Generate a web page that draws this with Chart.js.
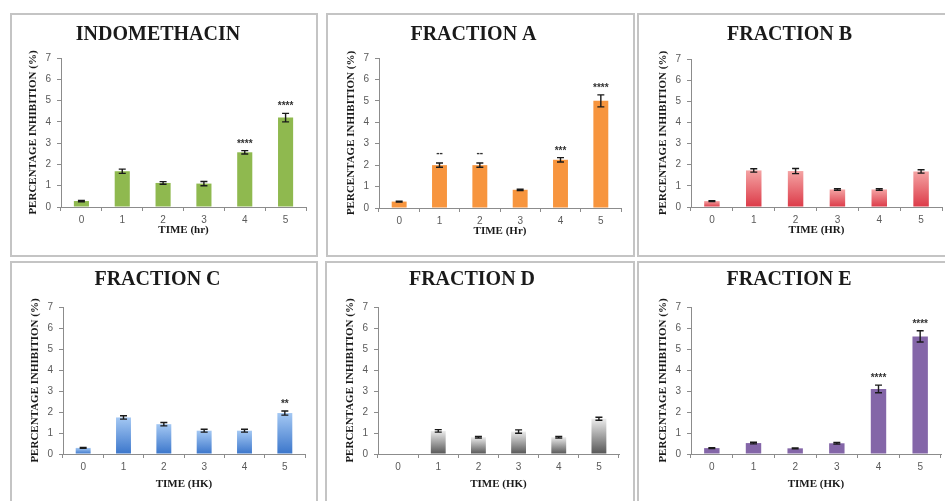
<!DOCTYPE html>
<html>
<head>
<meta charset="utf-8">
<script src="https://cdn.jsdelivr.net/npm/chart.js@4.4.0/dist/chart.umd.min.js"></script>
<style>
  html, body { margin: 0; padding: 0; background: #fff; }
  body { width: 945px; height: 501px; position: relative; overflow: hidden; }
  .panel { position: absolute; box-sizing: border-box; border: 2px solid #c4c4c4; }
  canvas { position: absolute; }
</style>
</head>
<body>
<script>
// data
const timeLabels = ['0', '1', '2', '3', '4', '5'];

const indomethacin    = [0.28, 1.68, 1.13, 1.10, 2.57, 4.20];
const indomethacinErr = [0.03, 0.10, 0.06, 0.10, 0.08, 0.20];
const indomethacinSig = ['', '', '', '', '****', '****'];

const fractionA    = [0.30, 2.00, 2.00, 0.85, 2.25, 5.00];
const fractionAErr = [0.02, 0.10, 0.10, 0.03, 0.10, 0.28];
const fractionASig = ['', '--', '--', '', '***', '****'];

const fractionB    = [0.28, 1.73, 1.70, 0.83, 0.83, 1.68];
const fractionBErr = [0.02, 0.08, 0.12, 0.04, 0.04, 0.08];
const fractionBSig = ['', '', '', '', '', ''];

const fractionC    = [0.29, 1.74, 1.42, 1.11, 1.11, 1.95];
const fractionCErr = [0.02, 0.08, 0.08, 0.07, 0.07, 0.10];
const fractionCSig = ['', '', '', '', '', '**'];

const fractionD    = [0, 1.10, 0.80, 1.07, 0.80, 1.68];
const fractionDErr = [0, 0.06, 0.04, 0.08, 0.04, 0.07];
const fractionDSig = ['', '', '', '', '', ''];

const fractionE    = [0.28, 0.52, 0.27, 0.51, 3.10, 5.60];
const fractionEErr = [0.02, 0.04, 0.02, 0.04, 0.18, 0.27];
const fractionESig = ['', '', '', '', '****', '****'];

const yTitle = 'PERCENTAGE INHIBITION (%)';

// panel boxes and plot area edges (page pixels)
const panels = [
  { title: 'INDOMETHACIN', xTitle: 'TIME (hr)', values: indomethacin, errs: indomethacinErr, sig: indomethacinSig,
    fill: ['#8fb94f', '#8fb94f'], box: [10, 13, 308, 244], area: [61, 306, 58, 207], titleY: 35, xTitleGap: 23 },
  { title: 'FRACTION A', xTitle: 'TIME (Hr)', values: fractionA, errs: fractionAErr, sig: fractionASig,
    fill: ['#f7953e', '#f7953e'], box: [326, 13, 309, 244], area: [379, 621, 58, 208], titleY: 35, xTitleGap: 23 },
  { title: 'FRACTION B', xTitle: 'TIME (HR)', values: fractionB, errs: fractionBErr, sig: fractionBSig,
    fill: ['#f4a3a3', '#dc3a48'], box: [637, 13, 310, 244], area: [691, 942, 59, 207], titleY: 35, xTitleGap: 23 },
  { title: 'FRACTION C', xTitle: 'TIME (HK)', values: fractionC, errs: fractionCErr, sig: fractionCSig,
    fill: ['#a4c8f3', '#3b76cb'], box: [10, 261, 308, 250], area: [63, 305, 307, 454], titleY: 280, xTitleGap: 30 },
  { title: 'FRACTION D', xTitle: 'TIME (HK)', values: fractionD, errs: fractionDErr, sig: fractionDSig,
    fill: ['#ececec', '#555555'], box: [325, 261, 310, 250], area: [378, 619, 307, 454], titleY: 280, xTitleGap: 30 },
  { title: 'FRACTION E', xTitle: 'TIME (HK)', values: fractionE, errs: fractionEErr, sig: fractionESig,
    fill: ['#8466a8', '#8466a8'], box: [637, 261, 310, 250], area: [691, 941, 307, 454], titleY: 280, xTitleGap: 30 }
];

const serif = '"Liberation Serif", "Times New Roman", serif';
const sans = '"Liberation Sans", Arial, sans-serif';
const axisColor = '#8c8c8c';

// error bars + significance marks on top of each bar
const errorBars = {
  id: 'errorBars',
  afterDatasetsDraw(chart) {
    const ctx = chart.ctx;
    const y = chart.scales.y;
    const ds = chart.data.datasets[0];
    chart.getDatasetMeta(0).data.forEach((bar, i) => {
      const v = ds.data[i];
      if (!v) return;
      const top = y.getPixelForValue(v + ds.errs[i]);
      const bot = y.getPixelForValue(v - ds.errs[i]);
      ctx.save();
      ctx.strokeStyle = '#1a1a1a';
      ctx.lineWidth = 1.4;
      ctx.beginPath();
      ctx.moveTo(bar.x, top); ctx.lineTo(bar.x, bot);
      ctx.moveTo(bar.x - 3.5, top); ctx.lineTo(bar.x + 3.5, top);
      ctx.moveTo(bar.x - 3.5, bot); ctx.lineTo(bar.x + 3.5, bot);
      ctx.stroke();
      const s = ds.sig[i];
      if (s) {
        ctx.fillStyle = '#333';
        ctx.font = 'bold 10px ' + sans;
        ctx.textAlign = 'center';
        ctx.textBaseline = 'alphabetic';
        ctx.fillText(s, bar.x, top - 10 + (s.includes('*') ? 6 : 3));
      }
      ctx.restore();
    });
  }
};

panels.forEach(p => {
  const [bx, by, bw, bh] = p.box;
  const [L, R, T, B] = p.area;
  const l = L - bx, r = R - bx, t = T - by, b = B - by, ty = p.titleY - by;

  const frame = document.createElement('div');
  frame.className = 'panel';
  Object.assign(frame.style, { left: bx + 'px', top: by + 'px', width: bw + 'px', height: bh + 'px' });
  document.body.appendChild(frame);

  const canvas = document.createElement('canvas');
  canvas.width = bw; canvas.height = bh;
  Object.assign(canvas.style, { left: bx + 'px', top: by + 'px', width: bw + 'px', height: bh + 'px' });
  document.body.appendChild(canvas);

  const xHeight = p.xTitleGap + 6.6;

  new Chart(canvas.getContext('2d'), {
    type: 'bar',
    data: {
      labels: timeLabels,
      datasets: [{
        data: p.values,
        errs: p.errs,
        sig: p.sig,
        backgroundColor: c => {
          if (p.fill[0] === p.fill[1] || c.raw === undefined || !c.chart.scales.y) return p.fill[1];
          const y = c.chart.scales.y;
          const y0 = y.getPixelForValue(c.raw), y1 = y.getPixelForValue(0);
          if (!isFinite(y0) || !isFinite(y1) || y0 === y1) return p.fill[1];
          const g = c.chart.ctx.createLinearGradient(0, y0, 0, y1);
          g.addColorStop(0, p.fill[0]);
          g.addColorStop(1, p.fill[1]);
          return g;
        },
        borderWidth: 0,
        barPercentage: 0.37,
        categoryPercentage: 1
      }]
    },
    options: {
      responsive: false,
      animation: false,
      devicePixelRatio: 1,
      layout: { padding: { left: 0, right: bw - r, top: 0, bottom: bh - b - xHeight } },
      plugins: {
        legend: { display: false },
        tooltip: { enabled: false },
        title: {
          display: true,
          text: p.title,
          color: '#1a1a1a',
          font: { family: serif, size: 20, weight: 'bold', lineHeight: 1.2 },
          padding: { top: ty - 12, bottom: t - ty - 12 }
        }
      },
      scales: {
        x: {
          afterFit: s => { s.height = xHeight; },
          grid: { display: true, drawOnChartArea: false, tickLength: 4, color: axisColor, offset: true },
          border: { display: true, color: axisColor },
          ticks: { color: '#5a5a5a', font: { family: sans, size: 10, lineHeight: 1 }, padding: 4 },
          title: {
            display: true, text: p.xTitle, color: '#1a1a1a',
            font: { family: serif, size: 11, weight: 'bold', lineHeight: 1.2 },
            padding: { top: 0, bottom: 0 }
          }
        },
        y: {
          min: 0, max: 7,
          afterFit: s => { s.width = l; },
          grid: { display: true, drawOnChartArea: false, tickLength: 4, color: axisColor },
          border: { display: true, color: axisColor },
          ticks: { stepSize: 1, color: '#5a5a5a', font: { family: sans, size: 10 }, padding: 6 },
          title: {
            display: true, text: yTitle, color: '#1a1a1a',
            font: { family: serif, size: 11, weight: 'bold', lineHeight: 1.2 },
            padding: { top: l - 28 - 6.6, bottom: 0 }
          }
        }
      }
    },
    plugins: [errorBars]
  });
});
</script>
</body>
</html>
